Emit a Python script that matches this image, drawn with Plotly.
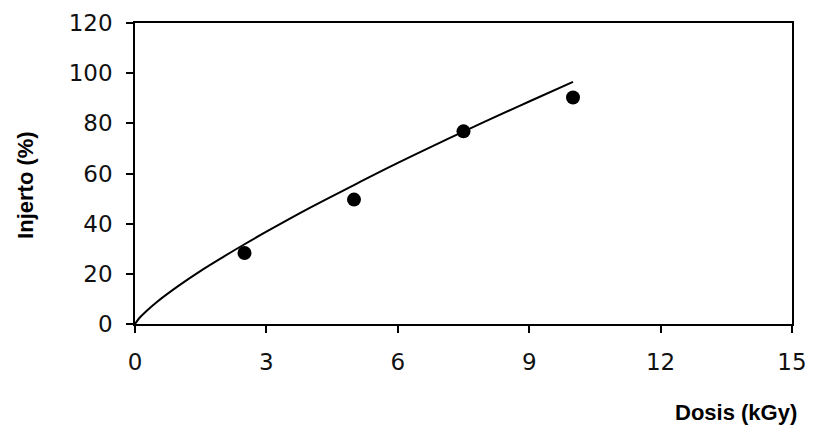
import plotly.graph_objects as go

# Measured data points
dose_points = [2.5, 5.0, 7.5, 10.0]
graft_points = [28.3, 49.6, 76.8, 90.3]

# Fitted curve
curve_dose = [0, 0.1, 0.25, 0.5, 1, 1.5, 2, 2.5, 3, 4, 5, 6, 7, 8, 9, 10]
curve_graft = [0, 2.4, 5.0, 8.8, 15.3, 21.2, 26.6, 31.8, 36.8, 46.4, 55.4, 64.2, 72.6, 80.8, 88.7, 96.5]

x_ticks = [0, 3, 6, 9, 12, 15]
y_ticks = [0, 20, 40, 60, 80, 100, 120]

FONT = "Liberation Sans, Arial, sans-serif"
TICKFONT = "DejaVu Sans, Liberation Sans, sans-serif"

fig = go.Figure()
fig.add_trace(go.Scatter(x=curve_dose, y=curve_graft, mode="lines",
                         line=dict(color="black", width=2), line_shape="spline",
                         showlegend=False, hoverinfo="skip"))
fig.add_trace(go.Scatter(x=dose_points, y=graft_points, mode="markers",
                         marker=dict(color="black", size=14), showlegend=False))

fig.update_layout(
    width=806, height=424,
    margin=dict(l=127, r=22, t=15, b=108),
    paper_bgcolor="white", plot_bgcolor="white",
    font=dict(family=FONT, color="black", size=24),
    xaxis=dict(range=[0, 15], tickvals=x_ticks, ticks="outside", ticklen=7,
               tickwidth=1.5, tickcolor="black", showline=True, linecolor="black",
               linewidth=1.5, mirror=True, showgrid=False, zeroline=False,
               automargin=False,
               tickfont=dict(size=23, family=TICKFONT, color="#111"), ticklabelstandoff=10),
    yaxis=dict(range=[0, 120], tickvals=y_ticks, ticks="outside", ticklen=7,
               tickwidth=1.5, tickcolor="black", showline=True, linecolor="black",
               linewidth=1.5, mirror=True, showgrid=False, zeroline=False,
               automargin=False,
               tickfont=dict(size=23, family=TICKFONT, color="#111"), ticklabelstandoff=9),
    annotations=[
        dict(text="<b>Dosis (kGy)</b>", xref="paper", yref="paper", x=0.915, y=-0.293,
             xanchor="center", yanchor="middle", showarrow=False,
             font=dict(size=22, family=FONT)),
        dict(text="<b>Injerto (%)</b>", xref="paper", yref="paper", x=-0.166, y=0.462,
             xanchor="center", yanchor="middle", showarrow=False, textangle=-90,
             font=dict(size=22, family=FONT)),
    ],
)

fig.write_html("out.html")
